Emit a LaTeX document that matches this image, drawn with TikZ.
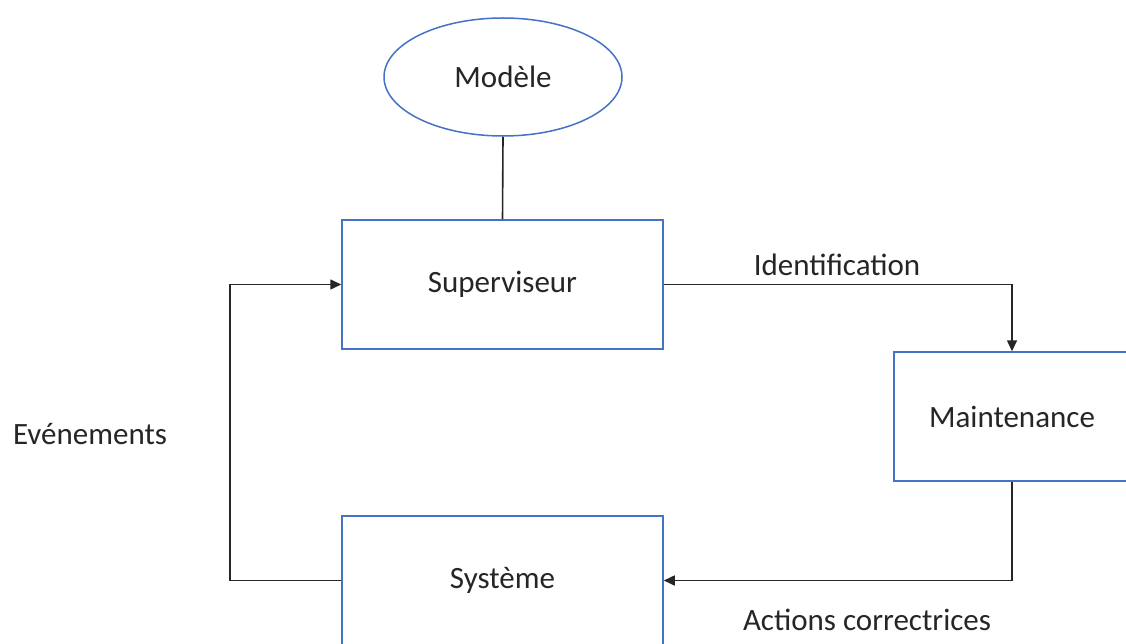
\documentclass[tikz,border=0pt]{standalone}
\usepackage{fontspec}
\setmainfont{Carlito}
\usetikzlibrary{arrows.meta,shapes.geometric,positioning}
\definecolor{boxblue}{HTML}{4472C4}
\definecolor{ink}{HTML}{262626}
\begin{document}
\begin{tikzpicture}[x=1pt,y=-1pt,
  every node/.style={font=\fontsize{31}{36}\selectfont, text=ink},
  blockbox/.style={draw=boxblue, line width=1.5pt, fill=white,
    minimum width=321pt, minimum height=129pt, inner sep=0pt},
  flow/.style={draw=ink, line width=1.6pt,
    -{Triangle[length=11pt,width=10pt]}},
  link/.style={draw=ink, line width=1.6pt}]
  \clip (0,0) rectangle (1126,644);
  \fill[white] (0,0) rectangle (1126,644);

  % blocks
  \node[ellipse, draw=boxblue, line width=1.5pt, minimum width=238pt,
        minimum height=118pt, inner sep=0pt] (mod) at (503,77) {Modèle};
  \node[blockbox] (sup) at (502.5,284.5) {Superviseur};
  \node[blockbox, minimum width=236pt] (maint) at (1012,416.5) {Maintenance};
  \node[blockbox] (sys) at (502.5,580.5) {Système};

  % connectors
  \draw[link] (mod.south) -- (sup.north);
  \draw[flow] (sup.east) -| (maint.north);
  \draw[flow] (maint.south) |- (sys.east);
  \coordinate (loop) at (230,580.5);
  \draw[flow] (sys.west) -- (loop) |- (sup.west);

  % labels
  \node (lid) at (837,265) {Identification};
  \node (lact) at (867,620) {Actions correctrices};
  \node (lev) at (90,434) {Evénements};
\end{tikzpicture}
\end{document}
